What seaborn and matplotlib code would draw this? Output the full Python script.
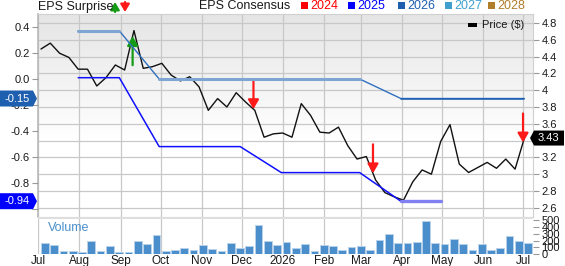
import numpy as np
import pandas as pd
import matplotlib
matplotlib.use("Agg")
import matplotlib.pyplot as plt
import matplotlib.dates as mdates
from matplotlib.patches import Polygon, Rectangle
from matplotlib.transforms import IdentityTransform
import seaborn as sns

# ---------------- data ----------------
price = [4.49, 4.56, 4.44, 4.39, 4.25, 4.25, 4.05, 4.15, 4.30, 4.24,
         4.71, 4.26, 4.28, 4.32, 4.18, 4.11, 4.16, 4.04, 3.76, 3.90,
         3.80, 3.97, 3.86, 3.76, 3.44, 3.48, 3.49, 3.44, 3.84, 3.70,
         3.50, 3.49, 3.56, 3.34, 3.18, 3.21, 2.93, 2.78, 2.73, 2.69,
         2.91, 3.05, 3.00, 3.39, 3.59, 3.12, 3.02, 3.08, 3.14, 3.07,
         3.18, 3.06, 3.43]
volume = [168, 138, 38, 48, 23, 192, 48, 123, 33, 23,
          188, 143, 282, 38, 53, 83, 53, 132, 78, 48,
          158, 93, 117, 432, 198, 128, 177, 93, 143, 38,
          138, 113, 63, 102, 123, 53, 203, 303, 162, 162,
          177, 488, 162, 153, 218, 153, 57, 153, 53, 83,
          263, 192, 168]
price_start = "2025-07-03"

cons_dates = ["2025-07-31", "2025-08-31", "2025-09-30", "2025-10-31", "2025-11-30",
              "2025-12-31", "2026-01-31", "2026-02-28", "2026-03-31", "2026-04-30",
              "2026-05-31", "2026-06-30", "2026-07-02"]
eps_2025 = [0.01, 0.01, -0.52, -0.52, -0.52, -0.72, -0.72, -0.72, -0.94, -0.94,
            np.nan, np.nan, np.nan]
eps_2026 = [0.37, 0.37, 0.0, 0.0, 0.0, 0.0, 0.0, 0.0, -0.15, -0.15, -0.15, -0.15, -0.15]

surprise_dates = ["2025-09-10", "2025-12-10", "2026-03-10", "2026-07-01"]
surprise_dir = ["up", "down", "down", "down"]

month_labels = ["Jul", "Aug", "Sep", "Oct", "Nov", "Dec", "2026", "Feb", "Mar",
                "Apr", "May", "Jun", "Jul"]
eps_ticks = [0.4, 0.2, 0.0, -0.2, -0.4, -0.6, -0.8, -1.0]
eps_tick_labels = ["0.4", "0.2", "0.0", "-0.2", "-0.4", "-0.6", "-0.8", ""]
price_ticks = [2.6, 2.8, 3.0, 3.2, 3.4, 3.6, 3.8, 4.0, 4.2, 4.4, 4.6, 4.8]
vol_ticks = [0, 100, 200, 300, 400, 500]
legend_years = ["2024", "2025", "2026", "2027", "2028"]
legend_colors = ["#ff0000", "#0000ff", "#1f5fb0", "#3fa0d0", "#b07d2b"]

# ---------------- style ----------------
sns.set_theme(style="white")
plt.rcParams["font.family"] = ["Liberation Sans", "DejaVu Sans"]
TXT = "#1a1a1a"
GRID = "#c8c8c8"

W, H = 565, 266
fig = plt.figure(figsize=(W / 100, H / 100), dpi=100)
fig.patch.set_facecolor("white")

L, R = 38, 533
ax = fig.add_axes([L / W, (H - 217) / H, (R - L) / W, (217 - 14) / H])
ax2 = ax.twinx()
axv = fig.add_axes([L / W, (H - 254) / H, (R - L) / W, (254 - 219) / H])

pdates = pd.date_range(price_start, periods=len(price), freq="7D")
cdates = pd.to_datetime(cons_dates)
months = pd.date_range("2025-07-01", "2026-07-01", freq="MS")
xlim = (pd.Timestamp("2025-06-30 18:00"), pd.Timestamp("2026-07-08 12:00"))

# background gradient
grad = np.linspace(0, 1, 256).reshape(-1, 1)
cmap = matplotlib.colors.LinearSegmentedColormap.from_list(
    "g", [(0, "#ffffff"), (0.38, "#ffffff"), (1, "#e5e5e5")])
ax.imshow(grad, extent=[0, 1, 0, 1], transform=ax.transAxes, aspect="auto",
          cmap=cmap, origin="lower", zorder=0)

# price line
df_p = pd.DataFrame({"date": pdates, "price": price})
sns.lineplot(data=df_p, x="date", y="price", ax=ax, color="#111111", lw=1.0, zorder=4)
ax.set_xlim(*xlim)
ax.set_ylim(2.49, 4.907)
ax.set_yticks(price_ticks)
ax.set_yticklabels([f"{t:g}" for t in price_ticks])
ax.set_xticks(months)
ax.set_xticklabels([])
ax.tick_params(axis="x", length=0)
ax.grid(True, color=GRID, lw=0.9)
ax.set_xlabel("")
ax.set_ylabel("")
for s in ["top", "right", "bottom"]:
    ax.spines[s].set_color("#d0d0d0")
    ax.spines[s].set_linewidth(0.8)
ax.spines["left"].set_color("#bbbbbb")

# surprise arrows
pnum = mdates.date2num(pdates)
for d, dr in zip(pd.to_datetime(surprise_dates), surprise_dir):
    dn = mdates.date2num(d)
    p = np.interp(dn, pnum, price)
    col = "#159a15" if dr == "up" else "#ff1a1a"
    off = -29 if dr == "up" else 29
    ax.annotate("", xy=(d, p), xytext=(0, off), textcoords="offset pixels",
                arrowprops=dict(arrowstyle="-|>,head_width=0.32,head_length=0.55",
                                color=col, lw=1.6, mutation_scale=10,
                                shrinkA=0, shrinkB=0), zorder=6)

# EPS consensus axis
ax2.set_ylim(-1.0615, 0.5)
ax2.set_yticks(eps_ticks)
ax2.set_yticklabels(eps_tick_labels)
ax2.set_xlim(*xlim)
for s in ax2.spines.values():
    s.set_visible(False)

df_c = pd.DataFrame({"date": cdates, "e25": eps_2025, "e26": eps_2026})
sns.lineplot(data=df_c, x="date", y="e26", ax=ax2, color="#2f6fbf", lw=1.0, zorder=3)
sns.lineplot(data=df_c.iloc[0:2], x="date", y="e26", ax=ax2, color="#7fa5d3", lw=2.2, zorder=3)
sns.lineplot(data=df_c.iloc[2:8], x="date", y="e26", ax=ax2, color="#7fa5d3", lw=2.2, zorder=3)
sns.lineplot(data=df_c.iloc[8:], x="date", y="e26", ax=ax2, color="#1f5fb0", lw=1.1, zorder=3)
sns.lineplot(data=df_c, x="date", y="e25", ax=ax2, color="#1010ff", lw=1.1, zorder=3)
sns.lineplot(data=df_c.iloc[8:10], x="date", y="e25", ax=ax2, color="#8080f2", lw=2.4, zorder=3)
ax2.set_xlabel("")
ax2.set_ylabel("")

# tick sides (after twinx)
ax.yaxis.set_ticks_position("right")
ax.tick_params(axis="y", which="both", left=False, labelleft=False, right=True,
               labelright=True, length=4, width=0.8, color="#999999",
               labelsize=8, labelcolor=TXT, pad=2)
ax2.yaxis.set_ticks_position("left")
ax2.tick_params(axis="y", which="both", right=False, labelright=False, left=True,
                labelleft=True, length=4, width=0.8, color="#999999",
                labelsize=8, labelcolor=TXT, pad=2)

# volume
axv.bar(pdates, volume, width=5.8, align="edge", color="#4a8fcb",
        edgecolor="#b8d2ec", lw=0.7, zorder=2)
axv.set_xlim(*xlim)
axv.set_ylim(0, 520)
axv.yaxis.tick_right()
axv.set_yticks(vol_ticks)
axv.tick_params(axis="y", length=4, width=0.8, color="#999999", labelsize=8,
                labelcolor=TXT, pad=2, right=True)
axv.set_xticks(months)
axv.set_xticklabels(month_labels)
axv.tick_params(axis="x", length=0, labelsize=8.5, labelcolor=TXT, pad=0.5)
axv.grid(True, axis="x", color=GRID, lw=0.9, zorder=0)
axv.set_axisbelow(True)
for s in axv.spines.values():
    s.set_visible(False)
axv.text((48 - L) / (R - L), 0.73, "Volume", transform=axv.transAxes,
         color="#4a8fcc", fontsize=9, va="center", ha="left")

# separator band
fig.add_artist(Rectangle((L / W, (H - 219) / H), (R - L) / W, 2 / H,
                         transform=fig.transFigure, color="#dedede", lw=0))

# header
fig.text(38 / W, 1 - 7 / H, "EPS Surprise", fontsize=9, color=TXT, va="center", ha="left")
fig.add_artist(matplotlib.patches.FancyArrowPatch(
    (115, H - 12), (115, H - 2), transform=IdentityTransform(),
    arrowstyle="-|>,head_width=0.3,head_length=0.5", mutation_scale=9,
    color="#159a15", lw=1.6, shrinkA=0, shrinkB=0))
fig.add_artist(matplotlib.patches.FancyArrowPatch(
    (125, H - 2), (125, H - 12), transform=IdentityTransform(),
    arrowstyle="-|>,head_width=0.3,head_length=0.5", mutation_scale=9,
    color="#ff1a1a", lw=1.6, shrinkA=0, shrinkB=0))
fig.text(199 / W, 1 - 6 / H, "EPS Consensus", fontsize=9, color=TXT, va="center", ha="left")
sq_x = [301, 348, 398, 445, 488]
for x0, yr, c in zip(sq_x, legend_years, legend_colors):
    fig.add_artist(Rectangle((x0 / W, 1 - 9 / H), 7 / W, 7 / H,
                             transform=fig.transFigure, color=c, lw=0))
    fig.text((x0 + 9) / W, 1 - 6 / H, yr, fontsize=9, color=c, va="center", ha="left")

# price legend
fig.add_artist(Rectangle((468 / W, 1 - 27 / H), 9 / W, 4 / H,
                         transform=fig.transFigure, color="black", lw=0))
fig.text(482 / W, 1 - 25 / H, "Price ($)", fontsize=8, color=TXT, va="center", ha="left")

# value tags
def tag_left(val, color):
    y = ax2.transData.transform((0, val))[1]
    pts = [(0, y - 8), (33, y - 8), (37, y), (33, y + 8), (0, y + 8)]
    fig.add_artist(Polygon(pts, closed=True, transform=IdentityTransform(),
                           color=color, lw=0, zorder=10))
    fig.text(17 / W, y / H, f"{val:.2f}", fontsize=8, color="white",
             va="center", ha="center", zorder=11)

def tag_right(val):
    y = ax.transData.transform((0, val))[1]
    pts = [(530, y), (534, y - 7.5), (564, y - 7.5), (564, y + 7.5), (534, y + 7.5)]
    fig.add_artist(Polygon(pts, closed=True, transform=IdentityTransform(),
                           color="black", lw=0, zorder=10))
    fig.text(548 / W, y / H, f"{val:.2f}", fontsize=8, color="white",
             va="center", ha="center", zorder=11)

tag_left(eps_2026[-1], "#1f5fb0")
tag_left(eps_2025[9], "#0000ff")
tag_right(price[-1])

fig.savefig("out.png", dpi=100)
